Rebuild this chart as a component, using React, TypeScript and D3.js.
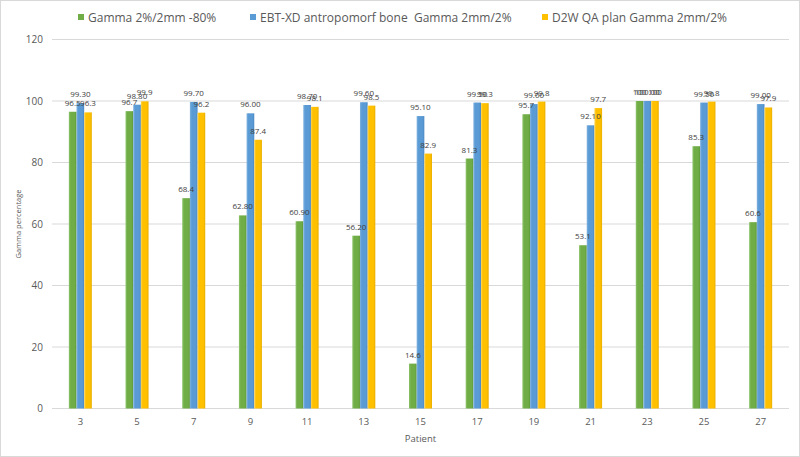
import React from "react";
import * as d3 from "d3";

const patients = ["3", "5", "7", "9", "11", "13", "15", "17", "19", "21", "23", "25", "27"];
const seriesNames = [
  "Gamma 2%/2mm -80%",
  "EBT-XD antropomorf bone  Gamma 2mm/2%",
  "D2W QA plan Gamma 2mm/2%",
];
const greenValues = [96.5, 96.7, 68.4, 62.8, 60.9, 56.2, 14.6, 81.3, 95.7, 53.1, 100, 85.3, 60.6];
const blueValues = [99.3, 98.8, 99.7, 96.0, 98.7, 99.6, 95.1, 99.5, 99.0, 92.1, 100.0, 99.5, 99.0];
const yellowValues = [96.3, 99.9, 96.2, 87.4, 98.1, 98.5, 82.9, 99.3, 99.8, 97.7, 100, 99.8, 97.9];
const greenLabels = ["96.5", "96.7", "68.4", "62.80", "60.90", "56.20", "14.6", "81.3", "95.7", "53.1", "100", "85.3", "60.6"];
const blueLabels = ["99.30", "98.80", "99.70", "96.00", "98.70", "99.60", "95.10", "99.50", "99.00", "92.10", "100.00", "99.50", "99.00"];
const yellowLabels = ["96.3", "99.9", "96.2", "87.4", "98.1", "98.5", "82.9", "99.3", "99.8", "97.7", "100", "99.8", "97.9"];
const yTicks = [0, 20, 40, 60, 80, 100, 120];

const colors = ["#70AD47", "#5B9BD5", "#FFC000"];
const darkColors = ["#5E9A38", "#4A88C4", "#E8AE00"];
const lightColors = ["#8CC46A", "#7FB2E0", "#FFD24D"];

const W = 800;
const H = 457;
const left = 52;
const right = 789;
const top = 39.5;
const bottom = 408.5;
const font = "'Open Sans', 'DejaVu Sans', sans-serif";

export default function App() {
  const x0 = d3.scaleBand<string>().domain(patients).range([left, right]).paddingInner(0).paddingOuter(0);
  const bw = x0.bandwidth();
  const groupW = 23;
  const x1 = d3
    .scaleBand<number>()
    .domain([0, 1, 2])
    .range([(bw - groupW) / 2, (bw + groupW) / 2])
    .padding(0);
  const y = d3.scaleLinear().domain([0, 120]).range([bottom, top]);

  const values = [greenValues, blueValues, yellowValues];
  const labels = [greenLabels, blueLabels, yellowLabels];

  const legendX = [78, 250, 542];

  return (
    <svg
      width={W}
      height={H}
      style={{ position: "fixed", left: 0, top: 0, background: "#fff" }}
      fontFamily={font}
    >
      <defs>
        {colors.map((c, i) => (
          <linearGradient key={i} id={`g${i}`} x1="0" x2="1" y1="0" y2="0">
            <stop offset="0%" stopColor={lightColors[i]} />
            <stop offset="25%" stopColor={colors[i]} />
            <stop offset="75%" stopColor={colors[i]} />
            <stop offset="100%" stopColor={darkColors[i]} />
          </linearGradient>
        ))}
      </defs>
      <rect x={0.5} y={0.5} width={W - 1} height={H - 1} fill="#fff" stroke="#d9d9d9" />

      {/* legend */}
      {seriesNames.map((s, i) => (
        <g key={s}>
          <rect x={legendX[i]} y={14} width={6} height={6} fill={colors[i]} />
          <text
            x={legendX[i] + 10}
            y={21.5}
            fontSize={12}
            fill="#595959"
            style={{ whiteSpace: "pre" }}
          >
            {s}
          </text>
        </g>
      ))}

      {/* gridlines */}
      {yTicks.map((t) => (
        <g key={t}>
          <line x1={left} x2={right} y1={y(t)} y2={y(t)} stroke="#d9d9d9" strokeWidth={1} />
          <text x={43} y={y(t) + 3.5} fontSize={10} fill="#595959" textAnchor="end">
            {t}
          </text>
        </g>
      ))}

      {/* bars */}
      {patients.map((p, ci) => (
        <g key={p} transform={`translate(${x0(p)},0)`}>
          {values.map((vals, si) => (
            <rect
              key={si}
              x={x1(si)}
              y={y(vals[ci])}
              width={x1.bandwidth()}
              height={bottom - y(vals[ci])}
              fill={`url(#g${si})`}
            />
          ))}
        </g>
      ))}

      {/* data labels */}
      {patients.map((p, ci) => (
        <g key={p} transform={`translate(${x0(p)},0)`}>
          {values.map((vals, si) => (
            <text
              key={si}
              x={(x1(si) as number) + x1.bandwidth() / 2}
              y={y(vals[ci]) - 6}
              fontSize={8}
              fill="#404040"
              textAnchor="middle"
            >
              {labels[si][ci]}
            </text>
          ))}
        </g>
      ))}

      {/* x tick labels */}
      {patients.map((p) => (
        <text
          key={p}
          x={(x0(p) as number) + bw / 2}
          y={425}
          fontSize={9.5}
          fill="#595959"
          textAnchor="middle"
        >
          {p}
        </text>
      ))}

      <text x={(left + right) / 2} y={441.5} fontSize={9.5} fill="#595959" textAnchor="middle">
        Patient
      </text>
      <text
        transform={`translate(20.5,${(top + bottom) / 2}) rotate(-90)`}
        fontSize={7.5}
        fill="#595959"
        textAnchor="middle"
      >
        Gamma percentage
      </text>
    </svg>
  );
}
